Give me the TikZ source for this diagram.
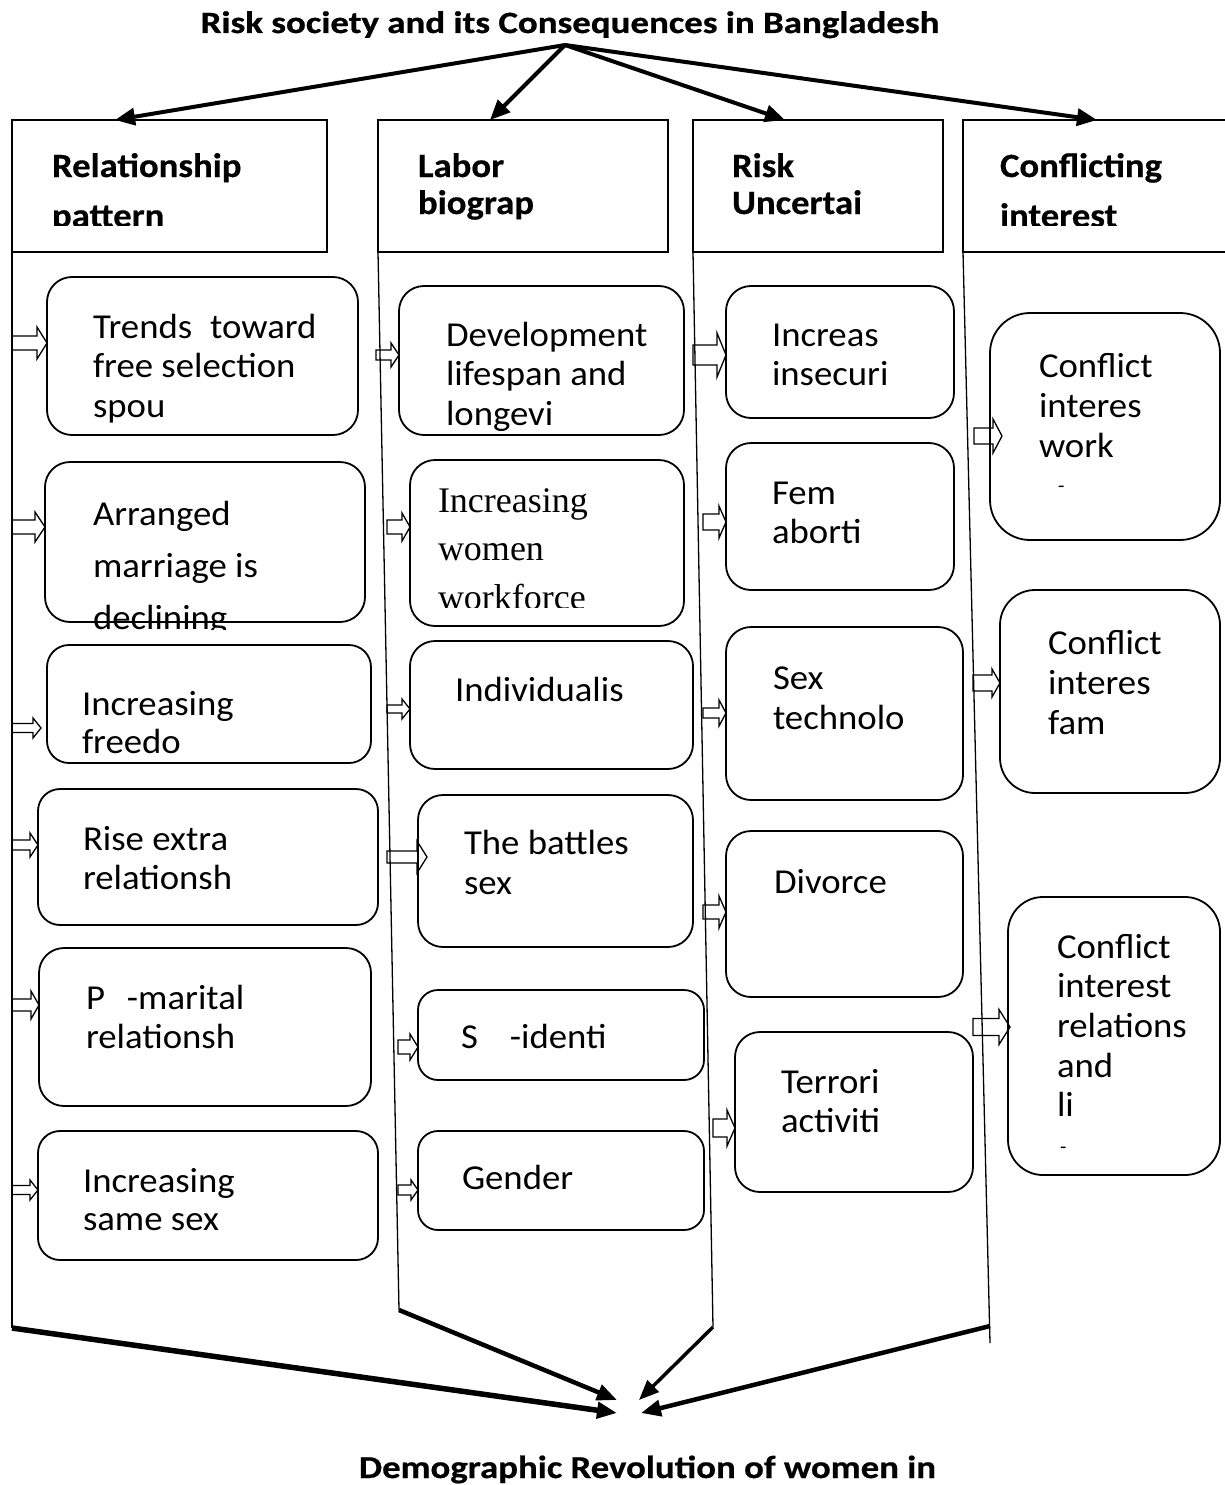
\documentclass[tikz,border=0pt]{standalone}
\usepackage{fontspec}
\setmainfont{Carlito}[FakeStretch=1.05]
\newfontfamily\hdfont{Carlito}[FakeStretch=1.08,FakeBold=0.5]
\newfontfamily\ttlfont{Carlito}[FakeStretch=1.19,FakeBold=0.8]
\newfontfamily\ftfont{Carlito}[FakeStretch=1.15,FakeBold=0.6]
\newfontfamily\serfont{Liberation Serif}
\usetikzlibrary{arrows.meta,calc}
\tikzset{
 rbox/.style={draw, line width=1.8pt, anchor=north west, inner sep=0pt, outer sep=0pt},
 hbox/.style={draw, line width=1.6pt, anchor=north west, inner sep=0pt, outer sep=0pt},
 txt/.style={anchor=base west, inner sep=0pt, outer sep=0pt, font=\fontsize{35pt}{40pt}\selectfont},
 sertxt/.style={anchor=base west, inner sep=0pt, outer sep=0pt, font=\serfont\fontsize{36pt}{44pt}\selectfont},
 dashtxt/.style={anchor=base west, inner sep=0pt, outer sep=0pt, font=\fontsize{20pt}{24pt}\selectfont},
 htxt/.style={anchor=base west, inner sep=0pt, outer sep=0pt, font=\hdfont\bfseries\fontsize{34pt}{40pt}\selectfont},
 spine/.style={line width=1.3pt},
 toparr/.style={line width=4pt, -{Triangle[length=20pt,width=17pt]}},
 botarr/.style={line width=4.5pt, -{Triangle[length=20pt,width=16pt]}},
 barrow/.style n args={3}{line width=1.3pt, to path={let \p1=(\tikztostart), \p2=(\tikztotarget) in
   (\x1,\y1+#1pt) -- (\x2-#3pt,\y1+#1pt) -- (\x2-#3pt,\y1+#2pt) -- (\x2,\y1) -- (\x2-#3pt,\y1-#2pt) -- (\x2-#3pt,\y1-#1pt) -- (\x1,\y1-#1pt) -- cycle}},
}
% name, x1, y1, x2, y2, radius
\newcommand\mkbox[6]{\node[rbox, rounded corners=#6pt, minimum width={(#4-#2)*1pt}, minimum height={(#5-#3)*1pt}] (#1) at (#2,#3) {};}
% name, x, first baseline, pitch, style, lines
\newcommand\mklines[6]{\foreach \s [count=\i] in {#6} {\node[#5] (#1-\i) at (#2, {#3+(\i-1)*#4}) {\s};}}
% name, x, y, shaft, head, headlen, box, tipshift
\newcommand\mkarr[8]{\coordinate (p#1) at (#2,#3); \coordinate (q#1) at ([xshift=#8pt]#7.west); \draw[barrow={#4}{#5}{#6}] (p#1) to (p#1 -| q#1);}
\begin{document}
\begin{tikzpicture}[x=1pt,y=-1pt]
\useasboundingbox (0,0) rectangle (1224,1485);
% title and footer
\node[anchor=base, inner sep=0pt, font=\ttlfont\bfseries\fontsize{31pt}{36pt}\selectfont] (title) at (570,33) {Risk society and its Consequences in Bangladesh};
\node[anchor=base, inner sep=0pt, font=\ftfont\bfseries\fontsize{32pt}{38pt}\selectfont] (foot) at (647.5,1478) {Demographic Revolution of women in};
% headers
\node[hbox, minimum width=315pt, minimum height=132pt] (h1) at (12,120) {};
\node[hbox, minimum width=290pt, minimum height=132pt] (h2) at (378,120) {};
\node[hbox, minimum width=250pt, minimum height=132pt] (h3) at (693,120) {};
\node[hbox, minimum width=277pt, minimum height=132pt] (h4) at (963,120) {};
\node[htxt] (h1t1) at (52,177) {Relationship};
\begin{scope}
\clip (12,120) rectangle (327,225);
\node[htxt] (h1t2) at (52,227) {pattern};
\end{scope}
\mklines{h2t}{418}{177}{37}{htxt}{Labor,biograp}
\mklines{h3t}{732}{177}{37}{htxt}{Risk,Uncertai}
\node[htxt] (h4t1) at (1000,177) {Conflicting};
\begin{scope}
\clip (963,120) rectangle (1240,225);
\node[htxt] (h4t2) at (1000,227) {interest};
\end{scope}
% top arrows
\coordinate (apex) at (565,45);
\draw[toparr] (apex) -- ([xshift=-54.5pt]h1.north);
\draw[toparr] (apex) -- ([xshift=-33pt]h2.north);
\draw[toparr] (apex) -- ([xshift=-33pt]h3.north);
\draw[toparr] (apex) -- ([xshift=-4.5pt]h4.north);
% spines
\coordinate (s1b) at (12,1328);
\coordinate (s2b) at (399,1310);
\coordinate (s3b) at (713,1327);
\coordinate (s4b) at (990,1343);
\coordinate (s4m) at (990,1326);
\draw[spine] (h1.south west) -- (s1b);
\draw[spine] (h2.south west) -- (s2b);
\draw[spine] (h3.south west) -- (s3b);
\draw[spine] (h4.south west) -- (s4b);
% bottom arrows
\coordinate (e1) at (617,1413);
\coordinate (e2) at (617,1400);
\coordinate (e3) at (639,1400);
\coordinate (e4) at (641,1413);
\draw[botarr, line width=5.5pt] (s1b) -- (e1);
\draw[botarr] (s2b) -- (e2);
\draw[botarr, line width=3.5pt] (s3b) -- (e3);
\draw[botarr] (s4m) -- (e4);
% column 1
\mkbox{b11}{47}{277}{358}{435}{25}
\mklines{b11t}{93}{338}{39.5}{txt}{Trends\hspace{18pt}toward,free selection,spou}
\mkbox{b12}{45}{462}{365}{622}{25}
\begin{scope}
\clip (45,462) rectangle (365,629);
\mklines{b12t}{93}{525}{52}{txt}{Arranged,marriage is,declining}
\end{scope}
\mkbox{b13}{47}{645}{371}{763}{22}
\mklines{b13t}{82}{715}{38}{txt}{Increasing,freedo}
\mkbox{b14}{38}{789}{378}{925}{22}
\mklines{b14t}{83}{850}{39}{txt}{Rise extra,relationsh}
\mkbox{b15}{39}{948}{371}{1106}{25}
\mklines{b15t}{86}{1009}{39}{txt}{P\hspace{22pt}-marital,relationsh}
\mkbox{b16}{38}{1131}{378}{1260}{22}
\mklines{b16t}{83}{1192}{38}{txt}{Increasing,same sex}
% column 2
\mkbox{b21}{399}{286}{684}{435}{25}
\mklines{b21t}{446}{346}{39.5}{txt}{Development,lifespan and,longevi}
\mkbox{b22}{410}{460}{684}{626}{25}
\begin{scope}
\clip (410,460) rectangle (684,607);
\mklines{b22t}{438}{512}{48.5}{sertxt}{Increasing,women,workforce}
\end{scope}
\mkbox{b23}{410}{641}{693}{769}{25}
\mklines{b23t}{455}{701}{40}{txt}{Individualis}
\mkbox{b24}{418}{795}{693}{947}{25}
\mklines{b24t}{464}{854}{40}{txt}{The battles,sex}
\mkbox{b25}{418}{990}{704}{1080}{20}
\mklines{b25t}{461}{1048}{40}{txt}{S\hspace{32pt}-identi}
\mkbox{b26}{418}{1131}{704}{1230}{20}
\mklines{b26t}{462}{1189}{40}{txt}{Gender}
% column 3
\mkbox{b31}{726}{286}{954}{418}{25}
\mklines{b31t}{772}{346}{39.5}{txt}{Increas,insecuri}
\mkbox{b32}{726}{443}{954}{590}{25}
\mklines{b32t}{772}{504}{39.5}{txt}{Fem,aborti}
\mkbox{b33}{726}{627}{963}{800}{25}
\mklines{b33t}{773}{689}{40}{txt}{Sex,technolo}
\mkbox{b34}{726}{831}{963}{997}{25}
\mklines{b34t}{774}{893}{40}{txt}{Divorce}
\mkbox{b35}{735}{1032}{973}{1192}{25}
\mklines{b35t}{781}{1093}{39.5}{txt}{Terrori,activiti}
% column 4
\mkbox{b41}{990}{313}{1220}{540}{40}
\mklines{b41t}{1039}{377}{40}{txt}{Conflict,interes,work}
\node[dashtxt] (b41d) at (1058,492) {-};
\mkbox{b42}{1000}{590}{1220}{793}{35}
\mklines{b42t}{1048}{654}{40}{txt}{Conflict,interes,fam}
\mkbox{b43}{1008}{897}{1220}{1175}{35}
\mklines{b43t}{1057}{958}{39.7}{txt}{Conflict,interest,relations,and,li}
\node[dashtxt] (b43d) at (1060,1153) {-};
% block arrows
\mkarr{11}{12}{343}{7}{16}{10}{b11}{0}
\mkarr{12}{12}{527}{7}{15}{10}{b12}{0}
\mkarr{13}{12}{728}{4.5}{10}{8}{b13}{-6}
\mkarr{14}{12}{845}{5}{12}{8}{b14}{0}
\mkarr{15}{12}{1005}{6}{14}{8}{b15}{0}
\mkarr{16}{12}{1190}{4.5}{10}{8}{b16}{0}
\mkarr{21}{376}{355}{5}{12}{8}{b21}{0}
\mkarr{22}{387}{527}{7}{14}{8}{b22}{0}
\mkarr{23}{387}{709}{4}{10}{8}{b23}{0}
\mkarr{24}{387}{857}{6}{16}{10}{b24}{9}
\mkarr{25}{398}{1047}{7}{13}{8}{b25}{0}
\mkarr{26}{398}{1190}{5}{10}{7}{b26}{0}
\mkarr{31}{693}{355}{10}{22}{9}{b31}{0}
\mkarr{32}{703}{522}{8}{16}{7}{b32}{0}
\mkarr{33}{703}{713}{5}{13}{7}{b33}{0}
\mkarr{34}{703}{912}{7}{16}{7}{b34}{0}
\mkarr{35}{713}{1128}{9}{18}{8}{b35}{0}
\mkarr{41}{974}{436}{8}{17}{9}{b41}{12}
\mkarr{42}{973}{683}{8}{14}{8}{b42}{0}
\mkarr{43}{973}{1027}{8.5}{17.5}{11}{b43}{2}
\end{tikzpicture}
\end{document}
